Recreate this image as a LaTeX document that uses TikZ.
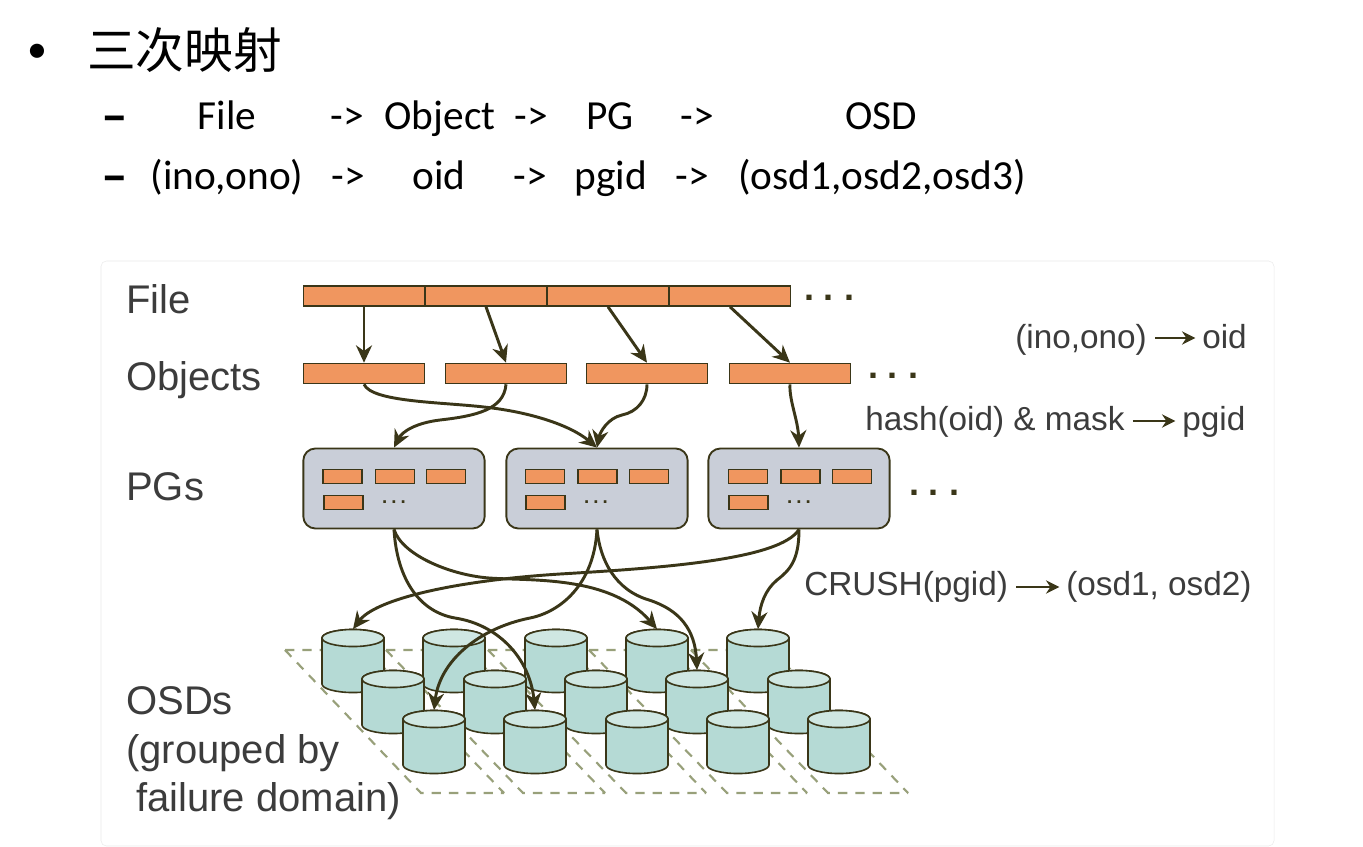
\documentclass[tikz,border=0pt]{standalone}
\usepackage{fontspec}
\setmainfont{Carlito}
\newfontfamily\figfont{Liberation Sans}
\newfontfamily\cjkfont{Noto Sans CJK SC}
\usetikzlibrary{shapes}
\usetikzlibrary{arrows.meta}
\definecolor{boxorange}{HTML}{F0965F}
\definecolor{boxline}{HTML}{3A3618}
\definecolor{pggrey}{HTML}{C9CED8}
\definecolor{osdteal}{HTML}{B5DAD5}
\definecolor{osdtop}{HTML}{CFE7E2}
\definecolor{gridgreen}{HTML}{98A07A}
\definecolor{figtext}{HTML}{3C3C3C}
\tikzset{
	slidetext/.style={anchor=base,inner sep=0pt,text=black,font=\fontsize{31}{36}\selectfont},
	slidedash/.style={anchor=base,inner sep=0pt,text=black,font=\bfseries\fontsize{40}{44}\selectfont},
	figlabel/.style={anchor=base west,inner sep=0pt,text=figtext,font=\figfont\fontsize{30}{34}\selectfont},
	maplabel/.style={anchor=base west,inner sep=0pt,text=figtext,font=\figfont\fontsize{25}{30}\selectfont},
	filebox/.style={rectangle,draw=boxline,fill=boxorange,line width=1.2pt,inner sep=0pt,minimum width=91pt,minimum height=15pt},
	objbox/.style={filebox},
	pgbox/.style={rectangle,rounded corners=9pt,draw=boxline,fill=pggrey,line width=1.4pt,inner sep=0pt,minimum width=136pt,minimum height=60pt},
	pgobj/.style={rectangle,draw=boxline,fill=boxorange,line width=1.2pt,inner sep=0pt,minimum width=29pt,minimum height=10.5pt},
	bigdots/.style={anchor=base,inner sep=0pt,text=boxline,font=\figfont\bfseries\fontsize{27}{30}\selectfont},
	smalldots/.style={anchor=base,inner sep=0pt,text=boxline,font=\figfont\bfseries\fontsize{14}{16}\selectfont},
	osdbody/.style={draw=boxline,fill=osdteal,line width=1.2pt},
	osdcap/.style={draw=boxline,fill=osdtop,line width=1.2pt},
	osdnode/.style={rectangle,inner sep=0pt,minimum width=46.5pt,minimum height=47.5pt},
	griddash/.style={draw=gridgreen,line width=1.6pt,dash pattern=on 7pt off 6pt},
	link/.style={draw=boxline,line width=2.2pt,-{Stealth[length=13pt,width=12pt]}},
	maparrow/.style={draw=boxline,line width=2.2pt,-{Stealth[length=10pt,width=10pt]},shorten >=5pt,shorten <=6pt}
}
\newcommand{\osdcan}[3]{
	\draw[osdbody] (#2-31,#3-23) -- (#2-31,#3+23) arc[start angle=180,end angle=360,x radius=23.25pt,y radius=6.4pt] -- (#2+31,#3-23) arc[start angle=0,end angle=180,x radius=23.25pt,y radius=6.4pt] -- cycle;
	\draw[osdcap] (#2,#3-23) ellipse[x radius=23.25pt,y radius=6.4pt];
	\node[osdnode] (#1) at (#2,#3) {};
}
\begin{document}
\begin{tikzpicture}[x=0.75pt,y=-0.75pt]
	\fill[white] (0,0) rectangle (1363,846);
	\useasboundingbox (0,0) rectangle (1363,846);
	\draw[draw=black!8,rounded corners=4pt] (101,261) rectangle (1274,846);

	\node[slidetext,font=\fontsize{30}{34}\selectfont] (bullet) at (37,62) {•};
	\node[anchor=west,inner sep=0pt,font=\cjkfont\fontsize{36.5}{42}\selectfont] (title) at (87,50) {三次映射};
	\node[slidedash] (dasha) at (115,133) {–};
	\node[slidetext] (filea) at (227,129) {File};
	\node[slidetext] (arra) at (347,129) {->};
	\node[slidetext] (obja) at (440,129) {Object};
	\node[slidetext] (arrb) at (531,129) {->};
	\node[slidetext] (pga) at (610,129) {PG};
	\node[slidetext] (arrc) at (697,129) {->};
	\node[slidetext] (osda) at (881,129) {OSD};
	\node[slidedash] (dashb) at (115,193) {–};
	\node[slidetext] (inob) at (227,189) {(ino,ono)};
	\node[slidetext] (arrd) at (348,189) {->};
	\node[slidetext] (oidb) at (439,189) {oid};
	\node[slidetext] (arre) at (530,189) {->};
	\node[slidetext] (pgidb) at (611,189) {pgid};
	\node[slidetext] (arrf) at (692,189) {->};
	\node[slidetext] (osdb) at (882,189) {(osd1,osd2,osd3)};

	\node[figlabel] (lfile) at (126,313) {File};
	\node[figlabel] (lobj) at (126,390) {Objects};
	\node[figlabel] (lpg) at (126,500) {PGs};
	\node[figlabel] (losd) at (126,714) {OSDs};
	\node[figlabel] (lgroup) at (126,763) {(grouped by};
	\node[figlabel] (lfail) at (136,811) {failure domain)};

	\node[filebox] (file1) at (364,296) {};
	\node[filebox] (file2) at (486,296) {};
	\node[filebox] (file3) at (608,296) {};
	\node[filebox] (file4) at (730,296) {};
	\node[bigdots] (filedots) at (829,300) {.\kern7.5pt.\kern7.5pt.};

	\node[objbox] (obj1) at (364,373.5) {};
	\node[objbox] (obj2) at (506,373.5) {};
	\node[objbox] (obj3) at (647,373.5) {};
	\node[objbox] (obj4) at (790,373.5) {};
	\node[bigdots] (objdots) at (893,378) {.\kern7.5pt.\kern7.5pt.};

	\node[pgbox] (pg1) at (394,488.5) {};
	\node[pgbox] (pg2) at (597,488.5) {};
	\node[pgbox] (pg3) at (799,488.5) {};
	\node[bigdots] (pgdots) at (934,495) {.\kern7.5pt.\kern7.5pt.};

	\node[pgobj] (pa1) at (342.5,476.5) {};
	\node[pgobj] (pa2) at (395,476.5) {};
	\node[pgobj] (pa3) at (446,476.5) {};
	\node[pgobj] (pa4) at (343.5,502.5) {};
	\node[smalldots] (pad) at (394,503) {.\kern3pt.\kern3pt.};
	\node[pgobj] (pb1) at (545,476.5) {};
	\node[pgobj] (pb2) at (597.5,476.5) {};
	\node[pgobj] (pb3) at (649,476.5) {};
	\node[pgobj] (pb4) at (545.5,502.5) {};
	\node[smalldots] (pbd) at (596,503) {.\kern3pt.\kern3pt.};
	\node[pgobj] (pc1) at (748,476.5) {};
	\node[pgobj] (pc2) at (800.5,476.5) {};
	\node[pgobj] (pc3) at (852,476.5) {};
	\node[pgobj] (pc4) at (748.5,502.5) {};
	\node[smalldots] (pcd) at (799,503) {.\kern3pt.\kern3pt.};

	\draw[griddash] (285,650) -- (367,650) (285,650) -- (421,793) -- (504,793) (367,650) -- (504,793);
	\draw[griddash] (386,650) -- (468,650) (386,650) -- (523,793) -- (605,793) (468,650) -- (605,793);
	\draw[griddash] (488,650) -- (570,650) (488,650) -- (626,793) -- (706,793) (570,650) -- (706,793);
	\draw[griddash] (589,650) -- (671,650) (589,650) -- (727,793) -- (807,793) (671,650) -- (807,793);
	\draw[griddash] (691,650) -- (772,650) (691,650) -- (828,793) -- (908,793) (772,650) -- (908,793);

	\osdcan{osd1}{353}{661}
	\osdcan{osd2}{454}{661}
	\osdcan{osd3}{556}{661}
	\osdcan{osd4}{657}{661}
	\osdcan{osd5}{758}{661}
	\osdcan{osd6}{393}{702}
	\osdcan{osd7}{495}{702}
	\osdcan{osd8}{596}{702}
	\osdcan{osd9}{697}{702}
	\osdcan{osd10}{799}{702}
	\osdcan{osd11}{434}{742}
	\osdcan{osd12}{535}{742}
	\osdcan{osd13}{637}{742}
	\osdcan{osd14}{738}{742}
	\osdcan{osd15}{839}{742}

	\draw[link] (file1.south) -- (obj1.north);
	\draw[link] (file2.south) -- (obj2.north);
	\draw[link] (file3.south) -- (obj3.north);
	\draw[link] (file4.south) -- (obj4.north);

	\draw[link] (obj1.south) .. controls (372,402) and (440,402) .. (484,407) .. controls (530,412) and (570,425) .. (pg2.north);
	\draw[link] (obj2.south) .. controls (504,410) and (475,416) .. (440,420) .. controls (415,423) and (402,432) .. (pg1.north);
	\draw[link] (obj3.south) .. controls (647,400) and (637,412) .. (622,415) .. controls (608,418) and (600,432) .. (pg2.north);
	\draw[link] (obj4.south) .. controls (789,400) and (798,420) .. (pg3.north);

	\draw[link] (pg1.south) .. controls (402,555) and (450,575) .. (489,578) .. controls (530,581) and (610,575) .. (osd4.north);
	\draw[link] (pg1.south) .. controls (397,580) and (420,612) .. (455,618) .. controls (500,625) and (530,660) .. (osd12.north);
	\draw[link] (pg2.south) .. controls (594,585) and (560,612) .. (530,618) .. controls (480,628) and (440,660) .. (osd11.north);
	\draw[link] (pg2.south) .. controls (600,560) and (615,590) .. (649,600) .. controls (680,610) and (695,630) .. (osd9.north);
	\draw[link] (pg3.south) .. controls (780,560) and (660,568) .. (560,574) .. controls (450,581) and (375,600) .. (osd1.north);
	\draw[link] (pg3.south) .. controls (799,560) and (790,570) .. (777,580) .. controls (765,590) and (760,605) .. (osd5.north);

	\node[maplabel] (mino) at (1015,348) {(ino,ono)};
	\node[maplabel] (moid) at (1202,348) {oid};
	\draw[maparrow] (mino.east |- 0,338) -- (moid.west |- 0,338);
	\node[maplabel] (mhash) at (865,430) {hash(oid) \& mask};
	\node[maplabel] (mpgid) at (1182,430) {pgid};
	\draw[maparrow] (mhash.east |- 0,421) -- (mpgid.west |- 0,421);
	\node[maplabel] (mcrush) at (804,595) {CRUSH(pgid)};
	\node[maplabel] (mosd) at (1066,595) {(osd1, osd2)};
	\draw[maparrow] (mcrush.east |- 0,587) -- (mosd.west |- 0,587);
\end{tikzpicture}
\end{document}
